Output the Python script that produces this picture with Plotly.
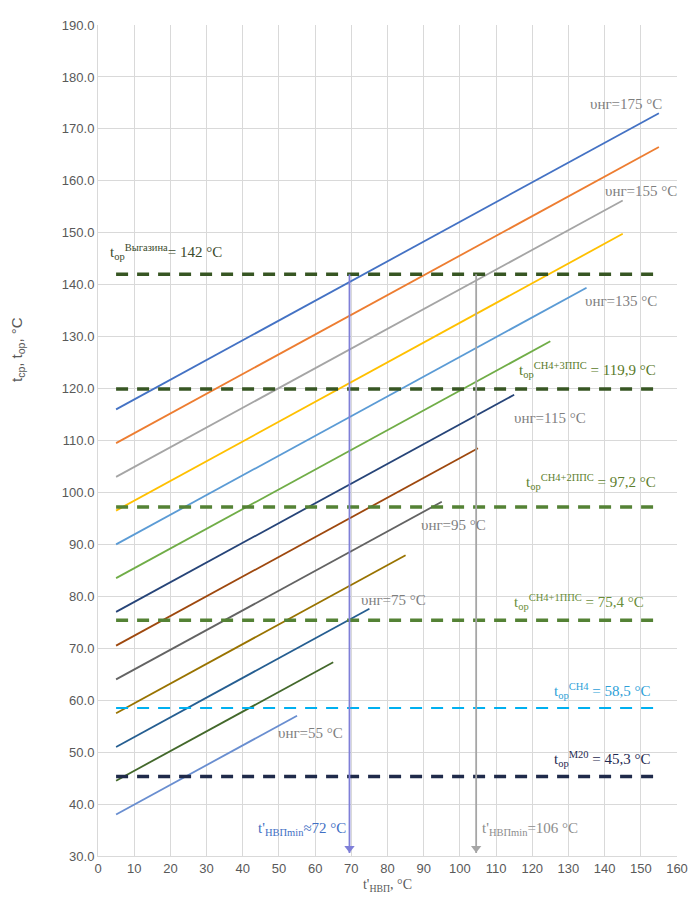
import plotly.graph_objects as go

# ---- data ----
nu_ng = [175, 165, 155, 145, 135, 125, 115, 105, 95, 85, 75, 65, 55]
x_start = [5, 5, 5, 5, 5, 5, 5, 5, 5, 5, 5, 5, 5]
x_end = [155, 155, 145, 145, 135, 125, 115, 105, 95, 85, 75, 65, 55]
y_start = [116.0, 109.5, 103.0, 96.5, 90.0, 83.5, 77.0, 70.5, 64.0, 57.5, 51.0, 44.5, 38.0]
y_end = [173.0, 166.5, 156.2, 149.8, 139.4, 129.1, 118.8, 108.5, 98.2, 87.9, 77.6, 67.3, 57.0]
line_colors = ["#4472C4", "#ED7D31", "#A5A5A5", "#FFC000", "#5B9BD5", "#70AD47",
               "#264478", "#9E480E", "#636363", "#997300", "#255E91", "#43682B", "#698ED0"]

t_or_values = [142.0, 119.9, 97.2, 75.4, 58.5, 45.3]
t_or_x = [5, 154]
t_or_colors = ["#375623", "#375623", "#548235", "#548235", "#00B0F0", "#1F2A4A"]
t_or_widths = [3.5, 3.5, 3.5, 3.5, 2, 3.5]

v_lines_x = [69.5, 104.5]
v_lines_y = [142, 30.6]
v_colors = ["#7F7FD8", "#A6A6A6"]

x_ticks = list(range(0, 161, 10))
y_ticks = list(range(30, 191, 10))

fig = go.Figure()

for i in range(len(nu_ng)):
    fig.add_trace(go.Scatter(x=[x_start[i], x_end[i]], y=[y_start[i], y_end[i]],
                             mode="lines", line=dict(color=line_colors[i], width=1.8),
                             name=f"υнг={nu_ng[i]} °C", showlegend=False))

for v, c, w in zip(t_or_values, t_or_colors, t_or_widths):
    fig.add_trace(go.Scatter(x=t_or_x, y=[v, v], mode="lines",
                             line=dict(color=c, width=w, dash="12px,9px"), showlegend=False))

for xv, c in zip(v_lines_x, v_colors):
    fig.add_trace(go.Scatter(x=[xv, xv], y=v_lines_y, mode="lines",
                             line=dict(color=c, width=1.8), showlegend=False))
    fig.add_trace(go.Scatter(x=[xv], y=[v_lines_y[1] + 0.9], mode="markers",
                             marker=dict(symbol="triangle-down", size=9, color=c),
                             showlegend=False))

SERIF = "Liberation Serif"
GRAY = "#7F7F7F"

def ann(x, y, text, color, size=15, xanchor="left"):
    fig.add_annotation(x=x, y=y, xref="x", yref="y", text=text, showarrow=False,
                       xanchor=xanchor, yanchor="middle",
                       font=dict(family=SERIF, size=size, color=color))

ann(2.8, 146.3, "t<sub>ор</sub><sup>Выгазина</sup>= 142 °C", "#3B4A2B")
ann(135.5, 174.7, "υнг=175 °C", GRAY)
ann(139.5, 158.0, "υнг=155 °C", GRAY)
ann(134.0, 136.9, "υнг=135 °C", GRAY)
ann(115.8, 123.6, "t<sub>ор</sub><sup>СН4+3ППС</sup> = 119,9 °C", "#5A7A2A")
ann(114.3, 114.4, "υнг=115 °C", GRAY)
ann(117.8, 102.0, "t<sub>ор</sub><sup>СН4+2ППС</sup> = 97,2 °C", "#5F7F2F")
ann(88.8, 93.8, "υнг=95 °C", GRAY)
ann(72.2, 79.3, "υнг=75 °C", GRAY)
ann(114.3, 78.9, "t<sub>ор</sub><sup>СН4+1ППС</sup> = 75,4 °C", "#6B8E3A")
ann(125.5, 61.7, "t<sub>ор</sub><sup>СН4</sup> = 58,5 °C", "#2E9FD8")
ann(49.2, 53.7, "υнг=55 °C", GRAY)
ann(125.5, 48.7, "t<sub>ор</sub><sup>М20</sup> = 45,3 °C", "#1F2A50")
ann(69.2, 35.2, "t'<sub>НВПmin</sub>≈72 °C", "#3F6FC4", xanchor="right")
ann(105.5, 35.2, "t'<sub>НВПmin</sub>=106 °C", "#8C8C8C")

# y axis title
fig.add_annotation(x=-0.14, y=0.61, xref="paper", yref="paper", xanchor="center",
                   text="t<sub>ср</sub>, t<sub>ор</sub>, °C", showarrow=False, textangle=-90,
                   font=dict(family="Liberation Sans", size=15, color="#595959"))

fig.update_layout(
    width=698, height=909,
    margin=dict(l=90, r=29, t=10, b=61),
    paper_bgcolor="white", plot_bgcolor="white",
    showlegend=False,
    xaxis=dict(range=[0, 160], tickvals=x_ticks, ticktext=[str(v) for v in x_ticks],
               showgrid=True, gridcolor="#D9D9D9", gridwidth=1, zeroline=False,
               showline=True, linecolor="#D9D9D9", ticks="",
               tickfont=dict(family="Liberation Sans", size=13, color="#595959"),
               title=dict(text="t'<sub>НВП</sub>, °C", standoff=4,
                          font=dict(family="Liberation Serif", size=14, color="#595959"))),
    yaxis=dict(range=[30, 190], tickvals=y_ticks, ticktext=[f"{v:.1f}" for v in y_ticks],
               showgrid=True, gridcolor="#D9D9D9", gridwidth=1, zeroline=False,
               showline=True, linecolor="#D9D9D9", ticks="",
               tickfont=dict(family="Liberation Sans", size=13, color="#595959")),
)

fig.write_html("out.html")
